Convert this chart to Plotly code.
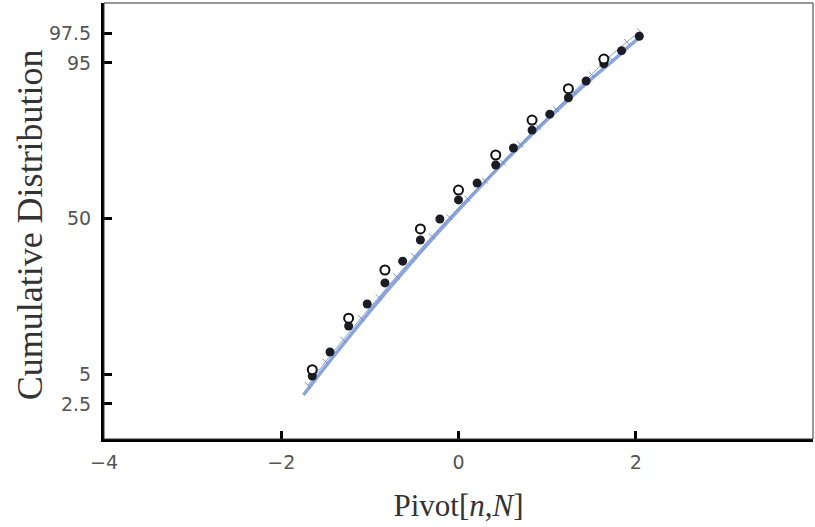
from statistics import NormalDist
import plotly.graph_objects as go

# ---- data (percent values) ----
circle_x = [-1.65, -1.24, -0.83, -0.43, 0.0, 0.42, 0.83, 1.24, 1.64]
circle_p = [5.5, 14.6, 29.3, 45.6, 61.8, 74.9, 85.1, 91.5, 95.4]

dot_x = [-1.65, -1.45, -1.24, -1.03, -0.83, -0.63, -0.43, -0.21, 0.0, 0.21,
         0.42, 0.62, 0.83, 1.03, 1.24, 1.44, 1.64, 1.84, 2.04]
dot_p = [4.8, 7.9, 12.8, 18.3, 24.8, 32.6, 41.0, 49.8, 57.8, 64.6,
         71.4, 77.2, 82.5, 86.5, 89.9, 92.7, 94.9, 96.2, 97.3]

curve_x = [-1.75, -1.5, -1.25, -1.0, -0.75, -0.5, -0.25, 0.0, 0.25, 0.5,
           0.75, 1.0, 1.25, 1.5, 1.75, 2.0, 2.05]
curve_p = [3.1, 5.9, 10.2, 16.3, 24.1, 33.3, 43.4, 53.6, 63.3, 72.0,
           79.3, 85.2, 89.7, 93.0, 95.3, 97.0, 97.2]

sim_x = [-1.7, -1.5, -1.3, -1.1, -0.9, -0.7, -0.5, -0.3, -0.1, 0.1,
         0.3, 0.5, 0.7, 0.9, 1.1, 1.3, 1.5, 1.7, 1.9, 2.05]
sim_p = [3.9, 6.5, 10.0, 14.6, 20.2, 27.0, 34.5, 42.5, 50.5, 58.3,
         65.5, 72.3, 78.3, 83.4, 87.6, 91.0, 93.6, 95.6, 96.9, 97.6]

y_ticks = [2.5, 5, 50, 95, 97.5]
y_tick_text = ["2.5", "5", "50", "95", "97.5"]
x_ticks = [-4, -2, 0, 2, 4]
x_tick_text = ["\u22124", "\u22122", "0", "2", "4"]

nd = NormalDist()
def probit(ps):
    return [nd.inv_cdf(p / 100.0) for p in ps]

fig = go.Figure()

fig.add_trace(go.Scatter(
    x=curve_x, y=probit(curve_p), mode="lines",
    line=dict(color="rgba(125,155,215,0.9)", width=3.5, shape="spline"),
    hoverinfo="skip", showlegend=False))

fig.add_trace(go.Scatter(
    x=sim_x, y=probit(sim_p), mode="lines+markers",
    line=dict(color="rgba(110,135,190,0.8)", width=1, shape="spline"),
    marker=dict(symbol="line-nw", size=6, line=dict(color="rgba(110,135,190,0.9)", width=1)),
    hoverinfo="skip", showlegend=False))

fig.add_trace(go.Scatter(
    x=dot_x, y=probit(dot_p), mode="markers",
    marker=dict(symbol="circle", size=9, color="#1c1c24"),
    showlegend=False))

fig.add_trace(go.Scatter(
    x=circle_x, y=probit(circle_p), mode="markers",
    marker=dict(symbol="circle", size=9, color="white", line=dict(color="#111", width=2)),
    showlegend=False))

fig.add_shape(type="rect", xref="paper", yref="paper", x0=0, x1=1, y0=0, y1=1,
              line=dict(color="#333", width=1), layer="above")

fig.add_annotation(text="Cumulative Distribution", xref="paper", yref="paper",
                   x=0, y=0.49, xshift=-74, xanchor="center", yanchor="middle",
                   textangle=-90, showarrow=False,
                   font=dict(family="Liberation Serif", size=36, color="#333"))

fig.update_layout(
    width=815, height=527, autosize=False,
    margin=dict(l=104, r=2, t=3, b=88),
    paper_bgcolor="white", plot_bgcolor="white",
    xaxis=dict(
        range=[-4, 4], tickvals=x_ticks, ticktext=x_tick_text, automargin=False,
        ticks="inside", ticklen=8, tickwidth=3, tickcolor="black",
        showline=True, linewidth=3, linecolor="black", showgrid=False, zeroline=False,
        tickfont=dict(family="DejaVu Sans", size=19, color="#555"),
        ticklabelstandoff=4,
        title=dict(text="Pivot[<i>n</i>,<i>N</i>]",
                   font=dict(family="Liberation Serif", size=31, color="#333"),
                   standoff=23)),
    yaxis=dict(
        range=[-2.331, 2.278], tickvals=probit(y_ticks), ticktext=y_tick_text, automargin=False,
        ticks="inside", ticklen=8, tickwidth=3, tickcolor="black",
        showline=True, linewidth=3, linecolor="black", showgrid=False, zeroline=False,
        tickfont=dict(family="DejaVu Sans", size=19, color="#555"),
        ticklabelstandoff=6),
)

post = ("document.body.style.margin='0px';"
        "document.body.style.overflow='hidden';"
        "Plotly.relayout('{plot_id}', {width: 815, height: 527});")

fig.write_html("out.html", post_script=post,
               config={"responsive": False, "displayModeBar": False})
